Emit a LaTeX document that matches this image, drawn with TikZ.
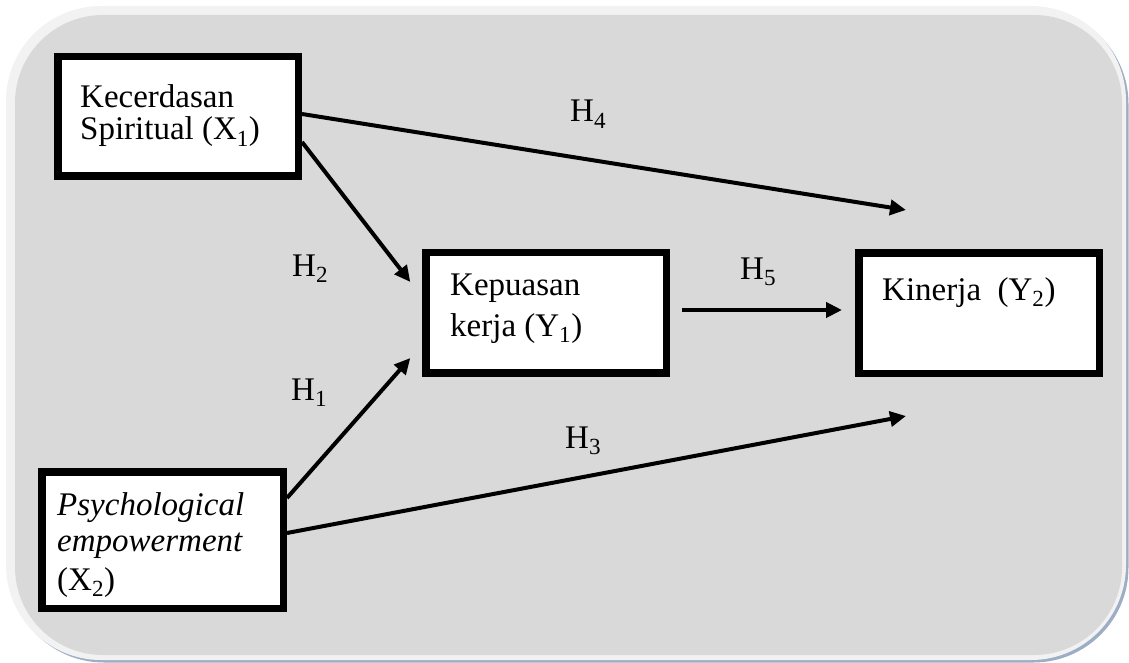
\documentclass[tikz,border=0pt]{standalone}
\usepackage{fontspec}
\setmainfont{Liberation Serif}
\usetikzlibrary{arrows.meta,calc}
\definecolor{panelgray}{HTML}{D9D9D9}
\definecolor{panelrim}{HTML}{F2F2F2}
\definecolor{panelshadow}{HTML}{9DAEC4}
\begin{document}
\begin{tikzpicture}[x=1pt,y=-1pt,
  box/.style={draw=black, line width=7.5pt, fill=white, inner sep=0pt},
  txt/.style={anchor=base west, inner sep=0pt, font=\fontsize{33}{33}\selectfont},
  link/.style={line width=4pt, -{Triangle[length=16pt,width=15pt]}}]
\useasboundingbox (0,0) rectangle (1129,663);
% background panel
\fill[panelshadow, rounded corners=95pt] (9,9) rectangle (1128.5,662.5);
\fill[panelrim, rounded corners=95pt] (6,6) rectangle (1126,660);
\fill[panelgray, rounded corners=88pt] (15,15) rectangle (1122,655);
% boxes
\node[box, minimum width=240.5pt, minimum height=119.5pt] (x1) at (178,116.5) {};
\node[box, minimum width=240.5pt, minimum height=120.5pt] (y1) at (546,312.5) {};
\node[box, minimum width=240.5pt, minimum height=120.5pt] (y2) at (979,313) {};
\node[box, minimum width=241.5pt, minimum height=136.5pt] (x2) at (162.5,540) {};
% box texts
\node[txt] (x1a) at (80,108) {Kecerdasan};
\node[txt] (x1b) at (80,140) {Spiritual (X\textsubscript{1})};
\node[txt] (y1a) at (450,295) {Kepuasan};
\node[txt] (y1b) at (450,336) {kerja (Y\textsubscript{1})};
\node[txt] (y2a) at (882,300) {Kinerja\ \ (Y\textsubscript{2})};
\node[txt] (x2a) at (57,515) {\itshape Psychological};
\node[txt] (x2b) at (57,551) {\itshape empowerment};
\node[txt] (x2c) at (57,590) {(X\textsubscript{2})};
% connector ends
\coordinate (h4end) at ([xshift=-73pt,yshift=39pt]y2.north);
\coordinate (h3end) at ([xshift=-73pt,yshift=-39pt]y2.south);
\coordinate (h2end) at ([xshift=-11.7pt,yshift=30.5pt]y1.west);
\coordinate (h1end) at ([xshift=-11.7pt,yshift=-45.5pt]y1.west);
\coordinate (h5start) at ([xshift=12pt,yshift=2.5pt]y1.east);
\coordinate (h5end) at ([xshift=-13pt,yshift=3pt]y2.west);
% connectors
\draw[link] ([yshift=2.5pt]x1.east) -- (h4end);
\draw[link] ([yshift=-25.5pt]x1.east) -- (h2end);
\draw[link] ([yshift=42pt]x2.east) -- (h1end);
\draw[link] ([yshift=7pt]x2.east) -- (h3end);
\draw[link] (h5start) -- (h5end);
% hypothesis labels
\node[txt] (lh4) at (570,122) {H\textsubscript{4}};
\node[txt] (lh2) at (292,276) {H\textsubscript{2}};
\node[txt] (lh5) at (740,279) {H\textsubscript{5}};
\node[txt] (lh1) at (291,400) {H\textsubscript{1}};
\node[txt] (lh3) at (565,448) {H\textsubscript{3}};
\end{tikzpicture}
\end{document}
